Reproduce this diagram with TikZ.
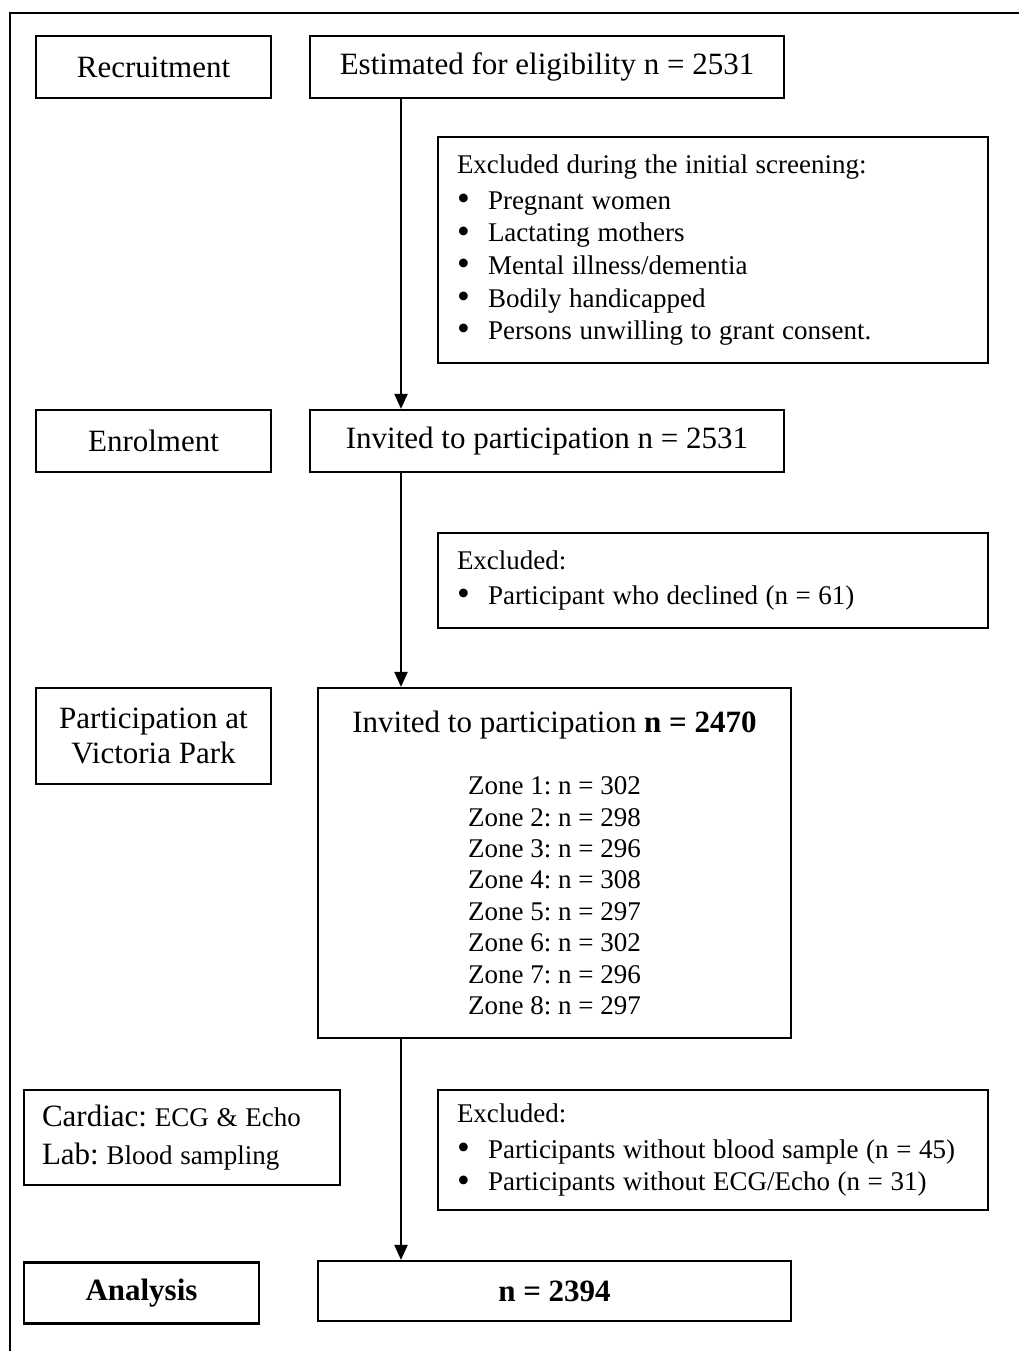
\documentclass[tikz,border=0pt]{standalone}
\usepackage{fontspec}
\setmainfont{Liberation Serif}
\usepackage{graphicx}
\usepackage{tikz}
\usetikzlibrary{arrows.meta}
\usetikzlibrary{calc}

\frenchspacing
\newcommand{\headsize}{\fontsize{15.5}{17.5}\selectfont}
\newcommand{\listsize}{\fontsize{13.5}{16.3}\selectfont}
\newcommand{\zonesize}{\fontsize{13.5}{15.7}\selectfont}
\newcommand{\bul}{\makebox[15.5pt][l]{\raisebox{-0.1ex}{\scalebox{1.35}{\textbullet}}}}

\tikzset{
  box/.style={draw, line width=1.1pt, inner sep=0pt, font=\headsize},
  listbox/.style={box, align=left, inner xsep=9.5pt, text width=256pt,
    minimum width=275pt, font=\listsize,
    execute at begin node={\spaceskip=0.28em plus 0.1em minus 0.05em\relax}},
  flow/.style={line width=1.1pt, -{Triangle[width=6.5pt,length=7.5pt]}}
}

\begin{document}
\begin{tikzpicture}[x=0.5pt, y=-0.5pt]
\useasboundingbox (0,0) rectangle (1019,1351);
\draw[line width=1.1pt] (10,1351) |- (1019,13);

% stage labels
\node[box, minimum width=117.5pt, minimum height=31pt] (recruit) at (153.5,67) {Recruitment};
\node[box, minimum width=117.5pt, minimum height=31pt] (enrol) at (153.5,441) {Enrolment};
\node[box, minimum width=117.5pt, minimum height=48pt, align=center] (park) at (153.5,736)
  {Participation at\\Victoria Park};
\node[box, minimum width=158pt, minimum height=47.5pt, align=left, inner xsep=9pt,
  text width=140pt, execute at begin node={\spaceskip=3.9pt plus 1pt\relax}] (cardiac)
  at (182,1137.5)
  {Cardiac: {\listsize ECG \& Echo}\\[1.5pt]Lab: {\listsize Blood sampling}};
\node[box, minimum width=117.5pt, minimum height=30.5pt, font=\headsize\bfseries] (analysis)
  at (141.5,1293) {Analysis};

% main flow
\node[box, minimum width=237pt, minimum height=31pt] (est) at (547,67)
  {Estimated for eligibility n = 2531};
\node[box, minimum width=237pt, minimum height=31pt] (inv) at (547,441)
  {Invited to participation n = 2531};
\node[box, minimum width=236.5pt, minimum height=175pt, align=center, font=\zonesize] (zones)
  at (554.5,863)
  {{\headsize Invited to participation \textbf{n = 2470}}\\[15.3pt]
   Zone 1: n = 302\\Zone 2: n = 298\\Zone 3: n = 296\\Zone 4: n = 308\\
   Zone 5: n = 297\\Zone 6: n = 302\\Zone 7: n = 296\\Zone 8: n = 297};
\node[box, minimum width=236.5pt, minimum height=30pt] (total) at (554.5,1291)
  {\textbf{n = 2394}};

% exclusions
\node[listbox, minimum height=113pt] (excl1) at (713,250)
  {Excluded during the initial screening:\\[1.7pt]
   \bul Pregnant women\\
   \bul Lactating mothers\\
   \bul Mental illness/dementia\\
   \bul Bodily handicapped\\
   \bul Persons unwilling to grant consent.};
\node[listbox, minimum height=47.5pt] (excl2) at (713,580.5)
  {Excluded:\\[1.2pt]
   \bul Participant who declined (n = 61)};
\node[listbox, minimum height=60pt] (excl3) at (713,1150)
  {Excluded:\\[1.7pt]
   \bul Participants without blood sample (n = 45)\\
   \bul Participants without ECG/Echo (n = 31)};

\coordinate (spine) at (401,0);
\draw[flow] (est.south -| spine) -- (inv.north -| spine);
\draw[flow] (inv.south -| spine) -- (zones.north -| spine);
\draw[flow] (zones.south -| spine) -- (total.north -| spine);
\end{tikzpicture}
\end{document}
